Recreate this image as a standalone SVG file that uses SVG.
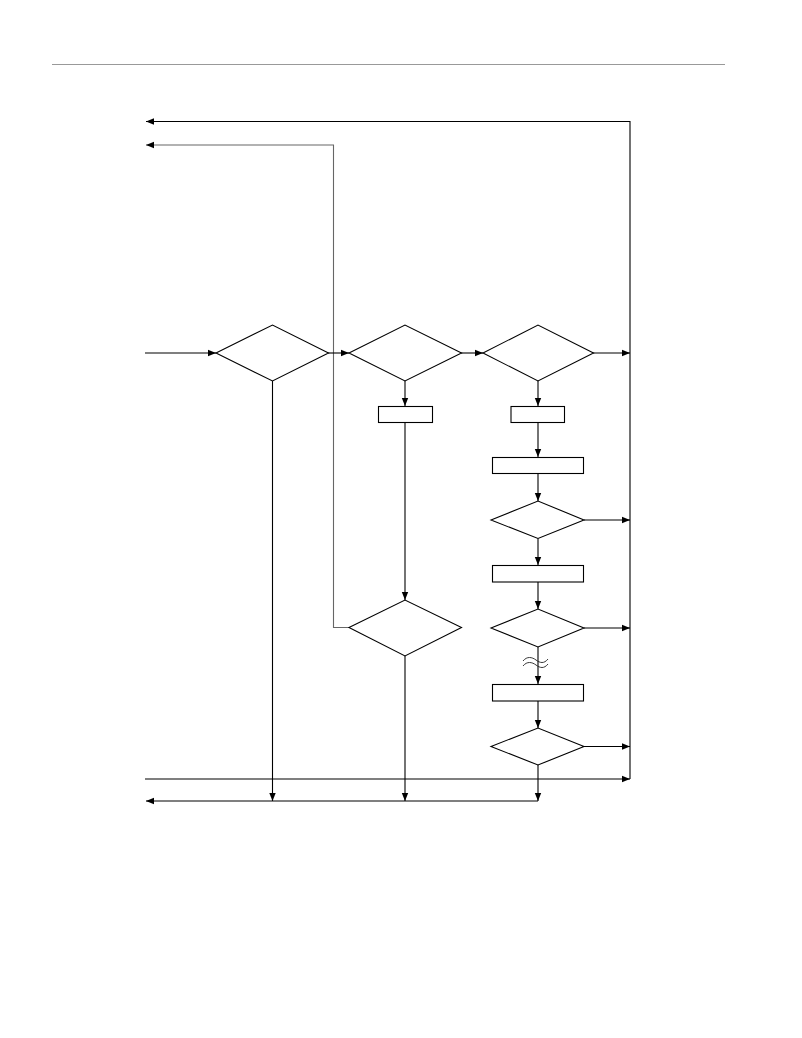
<svg xmlns="http://www.w3.org/2000/svg" width="802" height="1038" viewBox="0 0 802 1038">
<style>
.n{fill:#fff;stroke:#000;stroke-width:1.1}
.c{fill:none;stroke:#000;stroke-width:1.1}
.g{fill:none;stroke:#666;stroke-width:1.1}
.t{fill:none;stroke:#222;stroke-width:0.9}
</style>
<defs>
<marker id="a" markerUnits="userSpaceOnUse" markerWidth="8" markerHeight="8" viewBox="0 0 8 8" refX="8" refY="4" orient="auto">
<path d="M0,0.8 L8,4 L0,7.2 Z" fill="#000"/>
</marker>
</defs>
<rect width="802" height="1038" fill="#fff"/>
<line x1="52" y1="64.5" x2="725" y2="64.5" stroke="#999" stroke-width="1.2"/>
<g id="connectors">
<polyline class="c" points="630,779 630,121.5 146,121.5" marker-end="url(#a)"/>
<polyline class="g" points="349,627.5 333.5,627.5 333.5,145 146,145" marker-end="url(#a)"/>
<line class="c" x1="145" y1="353" x2="216" y2="353" marker-end="url(#a)"/>
<line class="c" x1="328" y1="353" x2="349" y2="353" marker-end="url(#a)"/>
<line class="c" x1="461" y1="353" x2="483" y2="353" marker-end="url(#a)"/>
<line class="c" x1="593" y1="353" x2="630" y2="353" marker-end="url(#a)"/>
<line class="c" x1="405" y1="381" x2="405" y2="406" marker-end="url(#a)"/>
<line class="c" x1="538" y1="381" x2="538" y2="406" marker-end="url(#a)"/>
<line class="c" x1="405" y1="422.5" x2="405" y2="600" marker-end="url(#a)"/>
<line class="c" x1="538" y1="422.5" x2="538" y2="457" marker-end="url(#a)"/>
<line class="c" x1="538" y1="473.5" x2="538" y2="501" marker-end="url(#a)"/>
<line class="c" x1="584" y1="520" x2="630" y2="520" marker-end="url(#a)"/>
<line class="c" x1="538" y1="538.5" x2="538" y2="565" marker-end="url(#a)"/>
<line class="c" x1="538" y1="582" x2="538" y2="609" marker-end="url(#a)"/>
<line class="c" x1="584" y1="628" x2="630" y2="628" marker-end="url(#a)"/>
<line class="c" x1="538" y1="647" x2="538" y2="684" marker-end="url(#a)"/>
<path class="t" d="M523,661 C527,656 532,657 536,660 S544,664 548,659"/>
<path class="t" d="M523,666 C527,661 532,662 536,665 S544,669 548,664"/>
<line class="c" x1="538" y1="701" x2="538" y2="728" marker-end="url(#a)"/>
<line class="c" x1="584" y1="746.5" x2="630" y2="746.5" marker-end="url(#a)"/>
<line class="c" x1="145" y1="779" x2="630" y2="779" marker-end="url(#a)"/>
<line class="c" x1="272.5" y1="381" x2="272.5" y2="801" marker-end="url(#a)"/>
<line class="c" x1="405" y1="656" x2="405" y2="801" marker-end="url(#a)"/>
<line class="c" x1="538" y1="765" x2="538" y2="801" marker-end="url(#a)"/>
<line class="c" x1="538" y1="801" x2="146" y2="801" marker-end="url(#a)"/>
</g>
<g id="d1"><polygon class="n" points="216,353 272.5,325 328.5,353 272.5,381"/></g>
<g id="d2"><polygon class="n" points="349,353 405,325 461.5,353 405,381"/></g>
<g id="d3"><polygon class="n" points="483,353 538,325 593.5,353 538,381"/></g>
<g id="b1"><rect class="n" x="378.5" y="406.5" width="54" height="16"/></g>
<g id="b2"><rect class="n" x="511" y="406.5" width="53.5" height="16"/></g>
<g id="b3"><rect class="n" x="492.5" y="457.5" width="91" height="16"/></g>
<g id="d4"><polygon class="n" points="491,520 538,501 584,520 538,538.5"/></g>
<g id="b4"><rect class="n" x="492.5" y="565.5" width="91" height="16.5"/></g>
<g id="d5"><polygon class="n" points="491,628 538,609 584,628 538,647"/></g>
<g id="d7"><polygon class="n" points="349,627.5 405,600 461.5,627.5 405,656"/></g>
<g id="b5"><rect class="n" x="492.5" y="684.5" width="91" height="16.5"/></g>
<g id="d6"><polygon class="n" points="491,746.5 538,728 584,746.5 538,765"/></g>
</svg>
